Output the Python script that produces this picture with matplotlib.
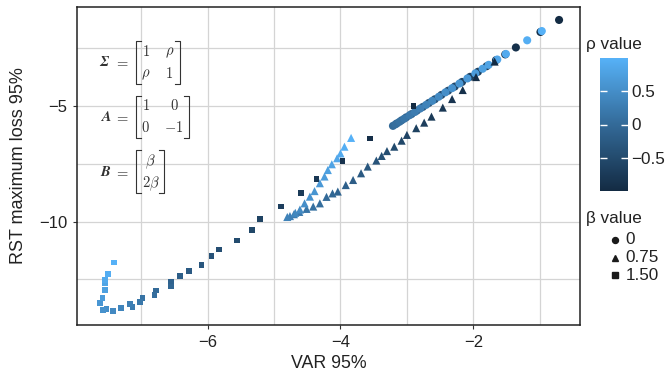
import numpy as np
import matplotlib
matplotlib.use('Agg')
import matplotlib.pyplot as plt
from matplotlib.colors import LinearSegmentedColormap, Normalize
from matplotlib.cm import ScalarMappable
from matplotlib.lines import Line2D

plt.rcParams['font.family'] = ['Liberation Sans', 'DejaVu Sans']
plt.rcParams['mathtext.fontset'] = 'cm'

# beta = 0 (circles)
rho_c = [-1.0, -0.95, -0.9, -0.85, -0.8, -0.75, -0.7, -0.65, -0.6, -0.55, -0.5,
         -0.45, -0.4, -0.35, -0.3, -0.25, -0.2, -0.15, -0.1, -0.05, 0.0,
         0.05, 0.1, 0.15, 0.2, 0.25, 0.3, 0.35, 0.4, 0.45, 0.5,
         0.55, 0.6, 0.65, 0.7, 0.75, 0.8, 0.85, 0.9, 0.95, 1.0]
var_c = [-0.71, -0.99, -1.36, -1.52, -1.66, -1.80, -1.93, -2.05, -2.17, -2.28, -2.38,
         -2.48, -2.58, -2.67, -2.76, -2.85, -2.93, -3.01, -3.08, -3.15, -3.21,
         -3.17, -3.11, -3.04, -2.96, -2.88, -2.80, -2.71, -2.62, -2.52, -2.42,
         -2.32, -2.21, -2.09, -1.97, -1.86, -1.77, -1.64, -1.51, -1.19, -0.97]
rst_c = [-1.28, -1.80, -2.47, -2.77, -3.02, -3.28, -3.52, -3.74, -3.96, -4.16, -4.34,
         -4.52, -4.71, -4.87, -5.04, -5.20, -5.35, -5.49, -5.62, -5.75, -5.86,
         -5.79, -5.68, -5.55, -5.40, -5.26, -5.11, -4.95, -4.78, -4.60, -4.41,
         -4.23, -4.03, -3.81, -3.59, -3.39, -3.22, -2.99, -2.75, -2.16, -1.76]

# beta = 0.75 (triangles)
rho_t = [-1.0, -0.95, -0.9, -0.85, -0.8, -0.75, -0.7, -0.65, -0.6, -0.55, -0.5,
         -0.45, -0.4, -0.35, -0.3, -0.25, -0.2, -0.15, -0.1, -0.05, 0.0,
         0.05, 0.1, 0.15, 0.2, 0.25, 0.3, 0.35, 0.4, 0.45, 0.5,
         0.55, 0.6, 0.65, 0.7, 0.75, 0.8, 0.85, 0.9, 0.95, 1.0]
var_t = [-1.68, -1.96, -2.16, -2.32, -2.46, -2.63, -2.74, -2.86, -3.00, -3.08, -3.19,
         -3.30, -3.38, -3.46, -3.59, -3.69, -3.81, -3.92, -4.04, -4.12, -4.21,
         -4.31, -4.41, -4.51, -4.62, -4.70, -4.76, -4.80, -4.68, -4.61, -4.54,
         -4.46, -4.39, -4.31, -4.24, -4.19, -4.13, -4.05, -4.00, -3.94, -3.84]
rst_t = [-3.08, -3.75, -4.31, -4.70, -5.07, -5.46, -5.72, -5.96, -6.25, -6.50, -6.76,
         -6.95, -7.16, -7.36, -7.62, -7.91, -8.20, -8.42, -8.70, -8.78, -8.93,
         -9.21, -9.35, -9.45, -9.58, -9.68, -9.76, -9.80, -9.62, -9.48, -9.21,
         -8.92, -8.68, -8.34, -8.05, -7.77, -7.52, -7.26, -7.05, -6.76, -6.38]

# beta = 1.50 (squares)
rho_s = [-1.0, -0.94, -0.88, -0.81, -0.75, -0.69, -0.62, -0.56, -0.5, -0.44, -0.38,
         -0.31, -0.25, -0.19, -0.12, -0.06, 0.0, 0.06, 0.12, 0.19, 0.25, 0.31,
         0.38, 0.44, 0.5, 0.56, 0.62, 0.69, 0.75, 0.81, 0.88, 0.94, 1.0]
var_s = [-2.90, -3.55, -3.97, -4.36, -4.59, -4.89, -5.21, -5.33, -5.56, -5.83, -5.94,
         -6.09, -6.28, -6.41, -6.55, -6.55, -6.78, -6.80, -6.98, -7.02, -7.13, -7.17,
         -7.30, -7.42, -7.52, -7.57, -7.62, -7.58, -7.54, -7.54, -7.54, -7.50, -7.41]
rst_s = [-5.00, -6.41, -7.38, -8.16, -8.77, -9.35, -9.89, -10.36, -10.82, -11.21, -11.49,
         -11.87, -12.12, -12.35, -12.60, -12.81, -12.98, -13.16, -13.30, -13.47, -13.68, -13.56,
         -13.75, -13.85, -13.79, -13.82, -13.53, -13.31, -12.95, -12.67, -12.52, -12.26, -11.77]

beta_labels = ['0', '0.75', '1.50']
beta_markers = ['o', '^', 's']

W, H = 665, 377
def fx(p):
    return p / W
def fy(p):
    return 1 - p / H

cmap = LinearSegmentedColormap.from_list('gg', ['#132B43', '#336A98', '#56B1F7'])
norm = Normalize(-1, 1)
txt = '#222222'

fig = plt.figure(figsize=(6.65, 3.77), dpi=100)
ax = fig.add_axes([77/W, 52/H, 503/W, 318/H])

ax.scatter(var_c, rst_c, c=rho_c, cmap=cmap, norm=norm, marker='o', s=34,
           linewidths=0, zorder=3)
ax.scatter(var_t, rst_t, c=rho_t, cmap=cmap, norm=norm, marker='^', s=34,
           linewidths=0, zorder=4)
ax.scatter(var_s, rst_s, c=rho_s, cmap=cmap, norm=norm, marker='s', s=17,
           linewidths=0, zorder=5)

ax.set_xlim(-7.965, -0.395)
ax.set_ylim(-14.47, -0.72)
ax.set_xticks([-6, -4, -2])
ax.set_xticks([-7, -5, -3, -1], minor=True)
ax.set_yticks([-10, -5])
ax.set_yticks([-12.5, -7.5, -2.5], minor=True)
ax.grid(which='both', color='#d4d4d4', linewidth=0.9, zorder=0)
ax.set_axisbelow(True)
ax.tick_params(which='major', length=3, width=0.8, color='#333333',
               labelsize=12, labelcolor=txt)
ax.tick_params(axis='x', pad=4.5)
ax.tick_params(axis='y', pad=4)
ax.tick_params(which='minor', length=0)
for sp in ax.spines.values():
    sp.set_color('#222222')
    sp.set_linewidth(1.1)
ax.set_xlabel('VAR 95%', fontsize=12.8, color=txt, labelpad=3)
ax.set_ylabel('RST maximum loss 95%', fontsize=13, color=txt, labelpad=9)

# matrix annotations, drawn by hand (pixel positions of the reference)
mcol = '#333333'
def bracket(x, top, bot, side):
    d = 5 if side == 'left' else -5
    fig.add_artist(Line2D([fx(x + d), fx(x), fx(x), fx(x + d)],
                          [fy(top), fy(top), fy(bot), fy(bot)],
                          transform=fig.transFigure, color=mcol, lw=0.8))

def mtext(x, y, s, size=10.5):
    fig.text(fx(x), fy(y), s, ha='center', va='baseline', fontsize=size, color=mcol)

# Sigma
mtext(105, 65.7, r'$\mathbfit{\Sigma}$')
mtext(122, 65.7, r'$=$')
bracket(136, 41, 83.5, 'left')
bracket(180, 41, 83.5, 'right')
mtext(145.7, 55.5, r'$1$')
mtext(169.5, 55.5, r'$\rho$')
mtext(145.7, 77.5, r'$\rho$')
mtext(169.5, 77.5, r'$1$')
# A
mtext(106, 120.7, r'$\mathbfit{A}$')
mtext(122, 120.7, r'$=$')
bracket(136, 95.7, 137.7, 'left')
bracket(189.3, 95.7, 137.7, 'right')
mtext(145.7, 110, r'$1$')
mtext(174.3, 110, r'$0$')
mtext(145.7, 131.7, r'$0$')
mtext(173.5, 131.7, r'$-1$')
# B
mtext(106, 175.7, r'$\mathbfit{B}$')
mtext(122, 175.7, r'$=$')
bracket(136, 150, 192.7, 'left')
bracket(164, 150, 192.7, 'right')
mtext(150.5, 165, r'$\beta$')
mtext(150.5, 187, r'$2\beta$')

# colour bar for rho
fig.text(fx(586), fy(44), 'ρ value', fontsize=12.3, color=txt, va='center')
cax = fig.add_axes([600/W, 186/H, 28/W, 133/H])
cb = fig.colorbar(ScalarMappable(norm=norm, cmap=cmap), cax=cax)
cb.outline.set_visible(False)
cb.set_ticks([-0.5, 0, 0.5])
cb.set_ticklabels(['\u22120.5', '0', '0.5'])
cax.tick_params(direction='in', color='white', left=True, right=True, length=5,
                width=1, labelsize=12.3, labelcolor=txt, pad=2.5)

# shape legend for beta
fig.text(fx(586), fy(219), 'β value', fontsize=12.3, color=txt, va='center')
for lab, m, ms, yy in zip(beta_labels, beta_markers, [4.3, 4.6, 3.9], [240, 257.5, 275]):
    fig.add_artist(Line2D([fx(615)], [fy(yy)], transform=fig.transFigure,
                          marker=m, color='#1a1a1a', linestyle='none', markersize=ms))
    fig.text(fx(625.5), fy(yy), lab, fontsize=12.3, color=txt, va='center')

fig.savefig('out.png', dpi=100)
